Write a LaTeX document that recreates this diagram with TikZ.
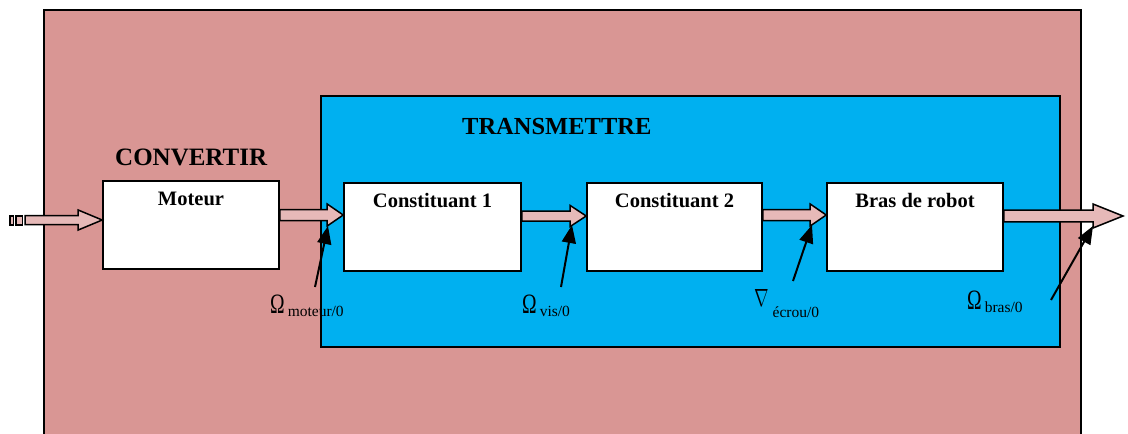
\documentclass[tikz,border=0pt]{standalone}
\usepackage{fontspec}
\setmainfont{Liberation Serif}
\usepackage{graphicx}
\usetikzlibrary{arrows.meta,calc}
\definecolor{outerpink}{HTML}{D99694}
\definecolor{bluebg}{HTML}{00B0F0}
\definecolor{arrowpink}{HTML}{E6B9B8}
\tikzset{
  stagebox/.style={draw=black, line width=1.6pt, fill=white, inner xsep=0pt,
    inner ysep=11pt, text height=14pt, text depth=52pt, anchor=north,
    font=\fontsize{20.5}{20.5}\selectfont\bfseries},
  blockarrow/.style={draw=black, line width=1.5pt, fill=arrowpink, line join=miter},
  ptr/.style={draw=black, line width=2pt, -{Triangle[length=18pt,width=14pt]}},
  title/.style={anchor=base west, inner sep=0pt, font=\fontsize{24.5}{24.5}\selectfont\bfseries},
  qty/.style={anchor=base west, inner sep=0pt}
}
\newcommand\blockarr[6]{%
  \draw[blockarrow] let \p1=(#1), \p2=(#2), \p3=(0,#3) in
    (\x1,\y3+#4pt) -- (\x2-#6pt,\y3+#4pt) -- (\x2-#6pt,\y3+#5pt) -- (\x2,\y3)
    -- (\x2-#6pt,\y3-#5pt) -- (\x2-#6pt,\y3-#4pt) -- (\x1,\y3-#4pt) -- cycle;}
\newcommand\bigsym[1]{{\fontsize{28}{28}\selectfont\scalebox{0.7}[1]{#1}}}
\newcommand\subtxt[1]{\kern3pt\raisebox{-3pt}{\fontsize{15.5}{15.5}\selectfont #1}}
\begin{document}
\begin{tikzpicture}[x=1pt,y=-1pt]
\useasboundingbox (0,0) rectangle (1128,434);
\clip (0,0) rectangle (1128,434);
% outer and inner areas
\path[draw=black, line width=1.8pt, fill=outerpink] (44,10) rectangle (1081,470);
\path[draw=black, line width=1.8pt, fill=bluebg] (321,96) rectangle (1060,347);
% titles
\node[title, font=\fontsize{25}{25}\selectfont\bfseries] (tconv) at (115,165) {CONVERTIR};
\node[title] (ttrans) at (462,134) {TRANSMETTRE};
% boxes
\node[stagebox, minimum width=176pt] (moteur) at (191,180) {Moteur};
\node[stagebox, minimum width=177pt] (c1) at (432.5,182) {Constituant 1};
\node[stagebox, minimum width=175pt] (c2) at (674.5,182) {Constituant 2};
\node[stagebox, minimum width=176pt] (bras) at (915,182) {Bras de robot};
% input
\coordinate (inS) at (25,220);
\coordinate (outE) at (1123,216);
\draw[blockarrow, line width=1.2pt] (10,216) rectangle (13.3,225);
\draw[blockarrow, line width=1.2pt] (16,216) rectangle (22.7,225);
\blockarr{inS}{moteur.west}{220}{4.5}{10}{24}
\blockarr{moteur.east}{c1.west}{215}{5.5}{11}{16}
\blockarr{c1.east}{c2.west}{216}{5}{10.5}{16}
\blockarr{c2.east}{bras.west}{215}{5.5}{11}{16}
\blockarr{bras.east}{outE}{216}{5.8}{12}{30}
% quantities
\node[qty] (qm) at (270,313) {\bigsym{Ω}\subtxt{moteur/0}};
\node[qty] (qv) at (522,313) {\bigsym{Ω}\subtxt{vis/0}};
\node[qty] (qe) at (754,306) {{\fontsize{28}{28}\selectfont\scalebox{0.7}[1]{$\nabla$}}\kern4pt\raisebox{-11pt}{\fontsize{15.5}{15.5}\selectfont écrou/0}};
\node[qty] (qb) at (967,309) {\bigsym{Ω}\subtxt{bras/0}};
% pointer arrows
\coordinate (p1s) at (315,287); \coordinate (p1e) at (328,226);
\coordinate (p2s) at (561,287); \coordinate (p2e) at (572,225);
\coordinate (p3s) at (793,281); \coordinate (p3e) at (812,225);
\coordinate (p4s) at (1051,300); \coordinate (p4e) at (1093,226);
\draw[ptr] (p1s) -- (p1e);
\draw[ptr] (p2s) -- (p2e);
\draw[ptr] (p3s) -- (p3e);
\draw[ptr] (p4s) -- (p4e);
\end{tikzpicture}
\end{document}
